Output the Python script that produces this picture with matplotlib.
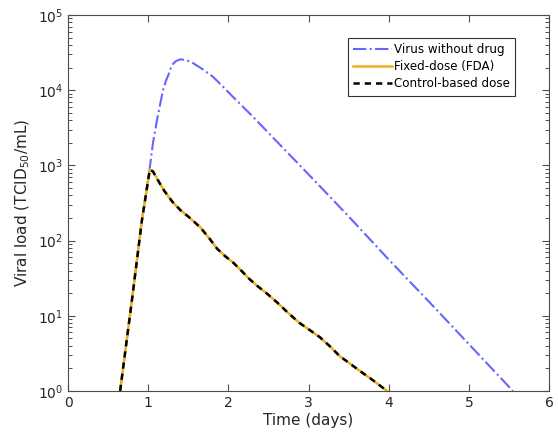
import numpy as np
import matplotlib.pyplot as plt
from matplotlib.ticker import LogLocator, NullFormatter

# virus without drug (time in days, viral load)
t_virus = [0.65, 0.80, 0.92, 1.02, 1.06, 1.11, 1.15, 1.185, 1.22, 1.25, 1.28, 1.31,
           1.35, 1.40, 1.45, 1.50, 1.56, 1.68, 1.81, 1.93, 2.06, 2.31, 2.6, 3.0,
           3.5, 4.0, 4.5, 5.0, 5.55]
v_virus = [1.0, 17.0, 180.0, 930.0, 2000.0, 4000.0, 6600.0, 1.0e4, 1.32e4, 1.58e4,
           1.95e4, 2.24e4, 2.45e4, 2.57e4, 2.54e4, 2.45e4, 2.29e4, 1.9e4, 1.5e4,
           1.12e4, 8.1e3, 4.4e3, 2.1e3, 7.6e2, 2.1e2, 56.0, 15.5, 4.2, 1.0]

# fixed-dose (FDA) and control-based dose
t_treat = [0.65, 0.80, 0.92, 1.02, 1.06, 1.12, 1.20, 1.30, 1.40, 1.52, 1.65, 1.76,
           1.86, 1.96, 2.06, 2.16, 2.26, 2.36, 2.48, 2.61, 2.75, 2.89, 3.02, 3.14,
           3.27, 3.39, 3.52, 3.64, 3.78, 3.98]
v_fixed = [1.0, 17.0, 180.0, 880.0, 830.0, 640.0, 460.0, 330.0, 255.0, 200.0, 150.0, 108.0,
           78.0, 62.0, 51.0, 40.0, 31.0, 25.0, 19.8, 15.0, 10.8, 8.0, 6.4, 5.2,
           3.9, 2.9, 2.3, 1.85, 1.45, 1.0]
v_control = v_fixed

plt.rcParams['font.family'] = 'DejaVu Sans'
txt = '#262626'
axc = '#4d4d4d'

fig = plt.figure(figsize=(5.58, 4.37), dpi=100)
ax = fig.add_axes([0.1219, 0.1053, 0.8620, 0.8604])

ax.plot(t_virus, v_virus, '-.', color='#6666ff', lw=1.5, label='Virus without drug')
ax.plot(t_treat, v_fixed, '-', color='#EDB120', lw=1.8, label='Fixed-dose (FDA)')
ax.plot(t_treat, v_control, '--', color='black', lw=1.8, dashes=(2.5, 2),
        label='Control-based dose')

ax.set_yscale('log')
ax.set_xlim(0, 6)
ax.set_ylim(1, 1e5)
ax.set_xticks(range(7))
ax.set_yticks([1, 10, 100, 1e3, 1e4, 1e5])
ax.yaxis.set_minor_locator(LogLocator(base=10, subs=(2, 3, 4, 5, 6, 7, 8, 9), numticks=100))
ax.yaxis.set_minor_formatter(NullFormatter())

ax.tick_params(which='both', direction='in', top=True, right=True, colors=axc,
               labelcolor=txt, labelsize=10)
ax.tick_params(which='major', length=5, width=0.8)
ax.tick_params(which='minor', length=3, width=0.7)
for s in ax.spines.values():
    s.set_color(axc)

ax.set_xlabel('Time (days)', fontsize=11, color=txt, labelpad=2)
ax.set_ylabel('Viral load (TCID$_{50}$/mL)', fontsize=11, color=txt, labelpad=4)

leg = ax.legend(loc='upper right', bbox_to_anchor=(0.93, 0.94), fontsize=8.6,
                fancybox=False, framealpha=1, edgecolor='#333333',
                handlelength=3.2, handletextpad=0.2, borderpad=0.45, labelspacing=0.35,
                borderaxespad=0)
leg.get_frame().set_linewidth(0.8)

fig.savefig('out.png', dpi=100)
